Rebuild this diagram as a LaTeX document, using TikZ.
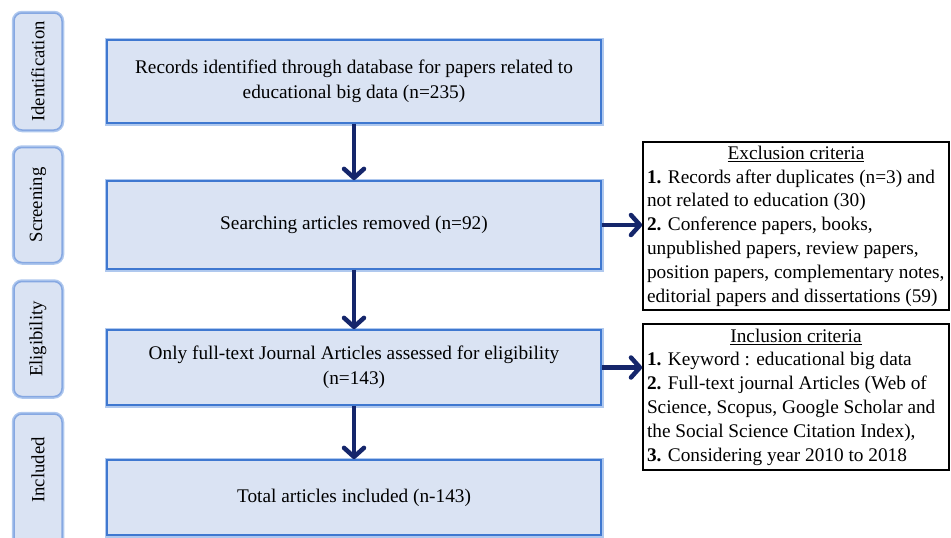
\documentclass[tikz,border=0pt]{standalone}
\usepackage{fontspec}
\setmainfont{Liberation Serif}
\usetikzlibrary{arrows.meta}
\definecolor{boxfill}{HTML}{DAE3F3}
\definecolor{boxline}{HTML}{3F78D0}
\definecolor{glow}{HTML}{AFC8EE}
\definecolor{sideline}{HTML}{86A8E2}
\definecolor{arrowc}{HTML}{15266B}
\begin{document}
\begin{tikzpicture}[x=1pt,y=-1pt,
  mainbox/.style={draw=boxline, line width=1.8pt, fill=boxfill,
    minimum width=494pt, align=center, inner sep=0pt,
    font=\fontsize{19.3}{24.5}\selectfont,
    preaction={draw=glow, line width=5pt}},
  sidebox/.style={draw=sideline, line width=1.5pt, fill=boxfill,
    rounded corners=8pt, minimum width=48pt, inner sep=0pt,
    preaction={draw=glow, line width=4.5pt, rounded corners=8pt}},
  sidetext/.style={rotate=90, font=\fontsize{18.7}{22}\selectfont, inner sep=0pt},
  critbox/.style={draw=black, line width=1.6pt, fill=white, align=left,
    minimum width=306pt, inner xsep=2.5pt, inner ysep=2pt,
    font=\fontsize{19.3}{23.8}\selectfont},
  flow/.style={draw=arrowc, line width=4.5pt,
    -{Straight Barb[length=9pt, width=20pt, round]}}
]
\useasboundingbox (0,0) rectangle (951,538);
\clip (0,0) rectangle (951,538);

% side labels
\node[sidebox, minimum height=117pt] (s1) at (38,71.5) {};
\node[sidetext] (t1) at (s1.center) {Identification};
\node[sidebox, minimum height=115pt] (s2) at (38,205) {};
\node[sidetext] (t2) at (s2.center) {Screening};
\node[sidebox, minimum height=115pt] (s3) at (38,339) {};
\node[sidetext] (t3) at (s3.center) {Eligibility};
\node[sidebox, minimum height=150pt] (s4) at (38,489) {};
\node[sidetext] (t4) at (38,470) {Included};

% main boxes
\node[mainbox, minimum height=83pt] (ident) at (354,81.5)
  {Records identified through database for papers related to\\educational big data (n=235)};
\node[mainbox, minimum height=88pt] (screen) at (354,225)
  {Searching articles removed (n=92)};
\node[mainbox, minimum height=75pt] (elig) at (354,367.5)
  {Only full-text Journal Articles assessed for eligibility\\(n=143)};
\node[mainbox, minimum height=75pt] (incl) at (354,497.5)
  {Total articles included (n-143)};

% criteria boxes
\node[critbox, minimum height=168pt] (excl) at (796,226)
  {\makebox[298pt]{\underline{Exclusion criteria}}\\
   \textbf{1.} Records after duplicates (n=3) and\\
   not related to education (30)\\
   \textbf{2.} Conference papers, books,\\
   unpublished papers, review papers,\\
   position papers, complementary notes,\\
   editorial papers and dissertations (59)};
\node[critbox, minimum height=146pt] (inc) at (796,397)
  {\makebox[298pt]{\underline{Inclusion criteria}}\\
   \textbf{1.} Keyword : educational big data\\
   \textbf{2.} Full-text journal Articles (Web of\\
   Science, Scopus, Google Scholar and\\
   the Social Science Citation Index),\\
   \textbf{3.} Considering year 2010 to 2018};

% arrows
\draw[flow] (ident.south) -- (screen.north);
\draw[flow] (screen.south) -- (elig.north);
\draw[flow] (elig.south) -- (incl.north);
\draw[flow] (screen.east) -- (screen.east -| excl.west);
\draw[flow] (elig.east) -- (elig.east -| inc.west);
\end{tikzpicture}
\end{document}
